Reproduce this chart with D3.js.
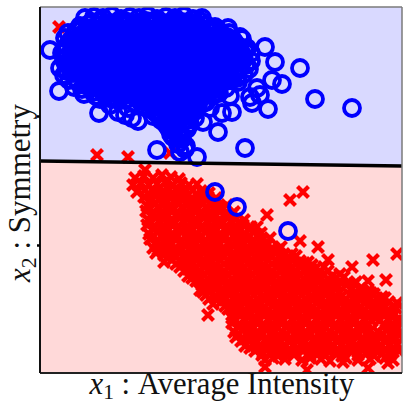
<!DOCTYPE html>
<html>
<head>
<meta charset="utf-8">
<script src="https://cdn.jsdelivr.net/npm/d3@7"></script>
<style>
  body { margin: 0; background: #fff; }
</style>
</head>
<body>
<svg id="chart" width="404" height="403"></svg>
<script>

// values (x: intensity units, y: symmetry units)
var redCore = [
  [104,197],[113,195],[122,198],[131,196],[139,194],
  [93,188],[101,190],[109,188],[117,189],[125,191],[133,188],[141,190],[149,188],[157,189],
  [97,181],[105,183],[113,182],[121,180],[129,183],[137,182],[145,181],[153,183],[161,182],[169,180],
  [104,176],[112,174],[120,175],[128,177],[136,174],[144,176],[152,175],[160,173],[168,176],[176,175],
  [107,167],[115,169],[123,168],[131,166],[139,169],[147,168],[155,167],[163,169],[171,168],[179,166],[187,168],
  [106,162],[114,160],[122,161],[130,163],[138,160],[146,161],[154,162],[162,160],[170,161],[178,163],[186,160],[194,161],
  [108,153],[116,155],[124,154],[132,152],[140,155],[148,154],[156,153],[164,155],[172,154],[180,152],[188,155],[196,154],[204,153],
  [107,148],[115,146],[123,147],[131,149],[139,146],[147,147],[155,148],[163,146],[171,147],[179,149],[187,146],[195,147],[203,148],[211,146],
  [109,139],[117,141],[125,140],[133,138],[141,141],[149,140],[157,139],[165,141],[173,140],[181,138],[189,141],[197,140],[205,139],[213,141],[221,140],
  [110,134],[118,132],[126,133],[134,135],[142,132],[150,133],[158,134],[166,132],[174,133],[182,135],[190,132],[198,133],[206,134],[214,132],[222,133],[230,135],
  [113,125],[121,127],[129,126],[137,124],[145,127],[153,126],[161,125],[169,127],[177,126],[185,124],[193,127],[201,126],[209,125],[217,127],[225,126],[233,124],[241,126],
  [116,120],[124,118],[132,119],[140,121],[148,118],[156,119],[164,120],[172,118],[180,119],[188,121],[196,118],[204,119],[212,120],[220,118],[228,119],[236,121],[244,118],[252,119],
  [124,111],[132,113],[140,112],[148,110],[156,113],[164,112],[172,111],[180,113],[188,112],[196,110],[204,113],[212,112],[220,111],[228,113],[236,112],[244,110],[252,113],[260,112],[268,111],
  [140,106],[148,104],[156,105],[164,107],[172,104],[180,105],[188,106],[196,104],[204,105],[212,107],[220,104],[228,105],[236,106],[244,104],[252,105],[260,107],[268,104],[276,105],[284,106],
  [148,97],[156,99],[164,98],[172,96],[180,99],[188,98],[196,97],[204,99],[212,98],[220,96],[228,99],[236,98],[244,97],[252,99],[260,98],[268,96],[276,99],[284,98],[292,97],[300,99],
  [156,92],[164,90],[172,91],[180,93],[188,90],[196,91],[204,92],[212,90],[220,91],[228,93],[236,90],[244,91],[252,92],[260,90],[268,91],[276,93],[284,90],[292,91],[300,92],[308,90],[316,91],
  [160,83],[168,85],[176,84],[184,82],[192,85],[200,84],[208,83],[216,85],[224,84],[232,82],[240,85],[248,84],[256,83],[264,85],[272,84],[280,82],[288,85],[296,84],[312,85],[320,84],[328,82],
  [166,78],[174,76],[182,77],[190,79],[198,76],[206,77],[214,78],[222,76],[230,77],[238,79],[246,76],[254,77],[262,78],[270,76],[278,77],[286,79],[294,76],[302,77],[310,78],[318,76],[326,77],[334,79],[342,76],
  [173,69],[181,71],[189,70],[197,68],[205,71],[213,70],[221,69],[229,71],[237,70],[245,68],[253,71],[261,70],[269,69],[277,71],[285,70],[293,68],[301,71],[309,70],[317,69],[325,71],[333,70],[341,68],[349,71],[357,70],
  [188,64],[196,62],[204,63],[212,65],[220,62],[228,63],[236,64],[244,62],[252,63],[260,65],[268,62],[276,63],[284,64],[292,62],[300,63],[308,65],[316,62],[324,63],[332,64],[340,62],[348,63],[356,65],
  [192,55],[200,57],[208,56],[216,54],[224,57],[232,56],[240,55],[248,57],[256,56],[264,54],[272,57],[280,56],[288,55],[296,57],[304,56],[312,54],[320,57],[328,56],[336,55],[344,57],[352,56],[360,54],
  [192,50],[200,48],[208,49],[216,51],[224,48],[232,49],[240,50],[248,48],[256,49],[264,51],[272,48],[280,49],[288,50],[296,48],[304,49],[312,51],[320,48],[328,49],[344,48],[352,49],[360,51],
  [194,41],[202,43],[210,42],[218,40],[226,43],[234,42],[242,41],[250,43],[258,42],[266,40],[274,43],[282,42],[290,41],[298,43],[306,42],[314,40],[322,43],[330,42],[338,41],[346,43],[354,42],[360,40],
  [196,36],[204,34],[212,35],[220,37],[228,34],[236,35],[244,36],[252,34],[260,35],[268,37],[276,34],[284,35],[292,36],[300,34],[308,35],[316,37],[324,34],[332,35],[340,36],[348,34],[356,35],
  [205,27],[213,29],[221,28],[229,26],[237,29],[245,28],[253,27],[261,29],[269,28],[277,26],[285,29],[293,28],[301,27],[309,29],[317,28],[325,26],[333,29],[341,28],[349,27],[357,29],
  [215,22],[223,20],[231,21],[239,23],[247,20],[255,21],[263,22],[271,20],[279,21],[287,23],[295,20],[303,21],[311,22],[319,20],[327,21],[335,23],[343,20],[351,21],[359,22],
  [225,13],[233,15],[245,14],[262,13],[270,15],[281,14],[290,12],[306,15],[318,13],[330,14],[345,15],[353,13]
];

// denser inner part of the red band
var redDense = [
  [108,179],[116,180],[124,178],[132,179],[140,180],[148,178],[156,179],[164,180],
  [111,172],[119,173],[127,171],[135,172],[143,173],[151,171],[159,172],[167,173],[175,171],
  [110,165],[118,166],[126,164],[134,165],[142,166],[150,164],[158,165],[166,166],[174,164],[182,165],
  [112,158],[120,159],[128,157],[136,158],[144,159],[152,157],[160,158],[168,159],[176,157],[184,158],[192,159],
  [111,151],[119,152],[127,150],[135,151],[143,152],[151,150],[159,151],[167,152],[175,150],[183,151],[191,152],[199,150],
  [113,144],[121,145],[129,143],[137,144],[145,145],[153,143],[161,144],[169,145],[177,143],[185,144],[193,145],[201,143],[209,144],
  [114,137],[122,138],[130,136],[138,137],[146,138],[154,136],[162,137],[170,138],[178,136],[186,137],[194,138],[202,136],[210,137],[218,138],
  [116,130],[124,131],[132,129],[140,130],[148,131],[156,129],[164,130],[172,131],[180,129],[188,130],[196,131],[204,129],[212,130],[220,131],[228,129],
  [118,123],[126,124],[134,122],[142,123],[150,124],[158,122],[166,123],[174,124],[182,122],[190,123],[198,124],[206,122],[214,123],[222,124],[230,122],[238,123],
  [128,116],[136,117],[144,115],[152,116],[160,117],[168,115],[176,116],[184,117],[192,115],[200,116],[208,117],[216,115],[224,116],[232,117],[240,115],[248,116],[256,117],
  [136,109],[144,110],[152,108],[160,109],[168,110],[176,108],[184,109],[192,110],[200,108],[208,109],[216,110],[224,108],[232,109],[240,110],[248,108],[256,109],[264,110],[272,108],
  [144,102],[152,103],[160,101],[168,102],[176,103],[184,101],[192,102],[200,103],[208,101],[216,102],[224,103],[232,101],[240,102],[248,103],[256,101],[264,102],[272,103],[280,101],[288,102],
  [152,95],[160,96],[168,94],[176,95],[184,96],[192,94],[200,95],[208,96],[216,94],[224,95],[232,96],[240,94],[248,95],[256,96],[264,94],[272,95],[280,96],[288,94],[296,95],[304,96],
  [162,88],[170,89],[178,87],[186,88],[194,89],[202,87],[210,88],[218,89],[226,87],[234,88],[242,89],[250,87],[258,88],[266,89],[274,87],[282,88],[290,89],[298,87],[306,88],[314,89],
  [163,81],[171,82],[179,80],[187,81],[195,82],[203,80],[211,81],[219,82],[227,80],[235,81],[243,82],[251,80],[259,81],[267,82],[275,80],[283,81],[291,82],[299,80],[315,81],[323,82],[331,80],
  [169,74],[177,75],[185,73],[193,74],[201,75],[209,73],[217,74],[225,75],[233,73],[241,74],[249,75],[257,73],[265,74],[273,75],[281,73],[289,74],[297,75],[305,73],[313,74],[321,75],[329,73],[337,74],[345,75],
  [185,67],[193,68],[201,66],[209,67],[217,68],[225,66],[233,67],[241,68],[249,66],[257,67],[265,68],[273,66],[281,67],[289,68],[297,66],[305,67],[313,68],[321,66],[329,67],[337,68],[345,66],[353,67],
  [194,60],[202,61],[210,59],[218,60],[226,61],[234,59],[242,60],[250,61],[258,59],[266,60],[274,61],[282,59],[290,60],[298,61],[306,59],[314,60],[322,61],[330,59],[338,60],[346,61],[354,59],
  [196,53],[204,54],[212,52],[220,53],[228,54],[236,52],[244,53],[252,54],[260,52],[268,53],[276,54],[284,52],[292,53],[300,54],[308,52],[316,53],[324,54],[332,52],[340,53],[348,54],[356,52],
  [198,46],[206,47],[214,45],[222,46],[230,47],[238,45],[246,46],[254,47],[262,45],[270,46],[278,47],[286,45],[294,46],[302,47],[310,45],[318,46],[326,47],[350,46],[358,45],
  [199,39],[207,40],[215,38],[223,39],[231,40],[239,38],[247,39],[255,40],[263,38],[271,39],[279,40],[287,38],[295,39],[303,40],[311,38],[319,39],[327,40],[335,38],[343,39],[351,40],[359,38],
  [201,32],[209,33],[217,31],[225,32],[233,33],[241,31],[249,32],[257,33],[265,31],[273,32],[281,33],[289,31],[297,32],[305,33],[313,31],[321,32],[329,33],[337,31],[345,32],[353,33],
  [210,25],[218,26],[226,24],[234,25],[242,26],[250,24],[258,25],[266,26],[274,24],[282,25],[290,26],[298,24],[306,25],[314,26],[322,24],[330,25],[338,26],[346,24],[354,25],
  [222,18],[238,17],[254,18],[270,17],[286,18],[302,17],[318,18],[334,17],[350,18]
];

var redStray = [
  [19,346],[57,218],[88,216],[130,220],[105,203],[95,195],[250,173],[263,181],
  [227,158],[217,146],[260,132],[278,126],[288,113],[333,113],[357,119],[312,106],
  [328,92],[346,93],[168,58],[225,6],[267,3],[303,11],[328,5],[348,10]
];

var blueCore = [
  [45,355],[54,356],[63,355],[72,357],[81,354],[90,356],[99,355],[108,357],[117,354],[126,356],[135,355],[144,357],[153,354],[162,355],
  [40,347],[49,349],[58,348],[67,346],[76,349],[85,348],[94,347],[103,349],[112,348],[121,346],[130,349],[139,348],[148,347],[157,349],[166,348],[175,346],
  [28,340],[36,342],[45,341],[54,339],[63,342],[72,341],[81,340],[90,342],[99,341],[108,339],[117,342],[126,341],[135,340],[144,342],[153,341],[162,339],[171,342],[180,341],[189,340],
  [25,335],[31,333],[40,334],[49,336],[58,333],[67,334],[76,335],[85,333],[94,334],[103,336],[112,333],[121,334],[130,335],[139,333],[148,334],[157,336],[166,333],[175,334],[184,335],[193,333],[202,334],
  [27,327],[36,328],[45,326],[54,328],[63,327],[72,326],[81,328],[90,327],[99,325],[108,328],[117,327],[126,326],[135,328],[144,327],[153,325],[162,328],[171,327],[180,326],[189,328],[198,327],[207,325],
  [22,320],[31,321],[40,319],[49,320],[58,322],[67,319],[76,320],[85,321],[94,319],[103,320],[112,322],[121,319],[130,320],[139,321],[148,319],[157,320],[166,322],[175,319],[184,320],[193,321],[202,319],[211,320],
  [24,313],[33,311],[42,314],[51,313],[60,312],[69,314],[78,313],[87,311],[96,314],[105,313],[114,312],[123,314],[132,313],[141,311],[150,314],[159,313],[168,312],[177,314],[186,313],[195,311],[204,314],[211,312],
  [20,305],[29,307],[38,306],[47,304],[56,307],[65,306],[74,305],[83,307],[92,306],[101,304],[110,307],[119,306],[128,305],[137,307],[146,306],[155,304],[164,307],[173,306],[182,305],[191,307],[200,306],[209,304],
  [24,298],[33,300],[42,299],[51,297],[60,300],[69,299],[78,298],[87,300],[96,299],[105,297],[114,300],[123,299],[132,298],[141,300],[150,299],[159,297],[168,300],[177,299],[186,298],[195,300],[204,299],
  [29,293],[38,291],[47,292],[56,294],[65,291],[74,292],[83,293],[92,291],[101,292],[110,294],[119,291],[128,292],[137,293],[146,291],[155,292],[164,294],[173,291],[182,292],[191,293],[198,291],
  [34,286],[42,284],[51,285],[60,287],[69,284],[78,285],[87,286],[96,284],[105,285],[114,287],[123,284],[132,285],[141,286],[150,284],[159,285],[168,287],[177,284],[186,285],
  [44,279],[56,277],[65,278],[74,280],[83,277],[92,278],[101,279],[110,277],[119,278],[128,280],[137,277],[146,278],[155,279],[164,277],[173,278],
  [100,272],[109,270],[118,271],[127,273],[136,270],[145,271],[154,272],[163,270],[166,271],
  [110,264],[119,262],[128,265],[137,263],[146,264],[155,262],
  [113,257],[121,255],[129,258],[138,256],[147,257],[155,255],
  [125,250],[134,248],[143,251],[150,249],
  [130,243],[138,241],[147,244],
  [133,236],[142,234],
  [138,229],[146,227]
];

// denser inner part of the blue cloud
var blueDense = [
  [52,351],[61,352],[70,350],[79,352],[88,351],[97,350],[106,352],[115,351],[124,350],[133,352],[142,351],[151,350],[160,352],
  [42,344],[51,345],[60,343],[69,344],[78,345],[87,343],[96,344],[105,345],[114,343],[123,344],[132,345],[141,343],[150,344],[159,345],[168,343],[177,344],
  [34,337],[43,338],[52,336],[61,337],[70,338],[79,336],[88,337],[97,338],[106,336],[115,337],[124,338],[133,336],[142,337],[151,338],[160,336],[169,337],[178,338],[187,336],
  [33,330],[42,331],[51,329],[60,330],[69,331],[78,329],[87,330],[96,331],[105,329],[114,330],[123,331],[132,329],[141,330],[150,331],[159,329],[168,330],[177,331],[186,329],[195,330],
  [25,323],[34,324],[43,322],[52,323],[61,324],[70,322],[79,323],[88,324],[97,322],[106,323],[115,324],[124,322],[133,323],[142,324],[151,322],[160,323],[169,324],[178,322],[187,323],[196,324],[205,322],
  [27,316],[36,317],[45,315],[54,316],[63,317],[72,315],[81,316],[90,317],[99,315],[108,316],[117,317],[126,315],[135,316],[144,317],[153,315],[162,316],[171,317],[180,315],[189,316],[198,317],
  [26,309],[35,310],[44,308],[53,309],[62,310],[71,308],[80,309],[89,310],[98,308],[107,309],[116,310],[125,308],[134,309],[143,310],[152,308],[161,309],[170,310],[179,308],[188,309],[197,310],[206,308],
  [27,302],[36,303],[45,301],[54,302],[63,303],[72,301],[81,302],[90,303],[99,301],[108,302],[117,303],[126,301],[135,302],[144,303],[153,301],[162,302],[171,303],[180,301],[189,302],[198,303],
  [35,295],[44,296],[53,294],[62,295],[71,296],[80,294],[89,295],[98,296],[107,294],[116,295],[125,296],[134,294],[143,295],[152,296],[161,294],[170,295],[179,296],[188,294],[197,295],
  [45,288],[54,289],[63,287],[72,288],[81,289],[90,287],[99,288],[108,289],[117,287],[126,288],[135,289],[144,287],[153,288],[162,289],[171,287],[180,288],
  [53,281],[62,282],[71,280],[80,281],[89,282],[98,280],[107,281],[116,282],[125,280],[134,281],[143,282],[152,280],[161,281],[170,282],[179,280],
  [60,274],[69,275],[78,273],[87,274],[96,275],[105,273],[114,274],[123,275],[132,273],[141,274],[150,275],[159,273],
  [104,267],[113,268],[122,266],[131,267],[140,268],[149,266],[158,267],
  [116,260],[125,261],[134,259],[143,260],[152,261],
  [121,253],[130,254],[139,252],[148,253],
  [128,246],[137,247],[146,245],
  [131,239],[140,240]
];

var blueStray = [
  [10,323],[19,282],[188,345],[200,336],[225,326],[235,311],[260,305],[232,293],[242,289],
  [217,285],[190,277],[210,276],[220,278],[275,274],[212,270],[228,264],[312,265],
  [59,260],[78,261],[85,258],[92,255],[98,252],[88,265],[70,268],
  [170,265],[182,260],[192,261],[163,251],[178,241],
  [117,223],[140,221],[145,224],[157,216],[205,225],
  [175,181],[197,166],[248,142]
];

var boundaryX = [0, 362];
var boundaryY = [212, 207];
var yTicks = [128, 257];

var xLabelParts = ["x", "1", " : Average Intensity"];
var yLabelParts = ["x", "2", " : Symmetry"];

var svg = d3.select("#chart");

var x = d3.scaleLinear().domain([0, 362]).range([40, 402]);
var y = d3.scaleLinear().domain([0, 366]).range([373, 7]);

svg.append("clipPath").attr("id", "plotClip")
  .append("rect")
    .attr("x", x(0)).attr("y", y(366))
    .attr("width", x(362) - x(0)).attr("height", y(0) - y(366));

var plot = svg.append("g").attr("clip-path", "url(#plotClip)");

var poly = d3.line().x(function (d) { return x(d[0]); }).y(function (d) { return y(d[1]); });

// decision regions
plot.append("path")
  .attr("d", poly([[0, boundaryY[0]], [362, boundaryY[1]], [362, 366], [0, 366]]) + "Z")
  .attr("fill", "#d9d9ff");
plot.append("path")
  .attr("d", poly([[0, 0], [362, 0], [362, boundaryY[1]], [0, boundaryY[0]]]) + "Z")
  .attr("fill", "#ffd9d9");

// red crosses
plot.selectAll("path.cross")
  .data(redCore.concat(redDense, redStray))
  .join("path")
    .attr("class", "cross")
    .attr("transform", function (d) { return "translate(" + x(d[0]) + "," + y(d[1]) + ")"; })
    .attr("d", "M-5.5,-5.5L5.5,5.5M-5.5,5.5L5.5,-5.5")
    .attr("stroke", "#ff0000")
    .attr("stroke-width", 4.2)
    .attr("fill", "none");

// blue circles
plot.selectAll("circle")
  .data(blueCore.concat(blueDense, blueStray))
  .join("circle")
    .attr("cx", function (d) { return x(d[0]); })
    .attr("cy", function (d) { return y(d[1]); })
    .attr("r", 8)
    .attr("fill", "none")
    .attr("stroke", "#0000ff")
    .attr("stroke-width", 3.8);

// separating line
plot.append("path")
  .attr("d", poly(boundaryX.map(function (v, i) { return [v, boundaryY[i]]; })))
  .attr("stroke", "#000")
  .attr("stroke-width", 3.5)
  .attr("fill", "none");

// frame
svg.append("line").attr("x1", x(0)).attr("x2", x(362)).attr("y1", y(366)).attr("y2", y(366))
  .attr("stroke", "#7a7a7a").attr("stroke-width", 1.5);
svg.append("line").attr("x1", x(362)).attr("x2", x(362)).attr("y1", y(366)).attr("y2", y(0))
  .attr("stroke", "#7a7a7a").attr("stroke-width", 1.5);
svg.append("line").attr("x1", x(0)).attr("x2", x(362)).attr("y1", y(0)).attr("y2", y(0))
  .attr("stroke", "#222").attr("stroke-width", 2);
svg.append("line").attr("x1", x(0)).attr("x2", x(0)).attr("y1", y(366)).attr("y2", y(0))
  .attr("stroke", "#111").attr("stroke-width", 2);

var yAxis = svg.append("g")
  .attr("transform", "translate(" + x(0) + ",0)")
  .call(d3.axisLeft(y).tickValues(yTicks).tickSize(3).tickFormat(""));
yAxis.select(".domain").remove();
yAxis.selectAll(".tick line").attr("stroke", "#000").attr("stroke-width", 2.5);

function addLabel(parts, target) {
  var t = svg.append("text")
    .attr("text-anchor", "middle")
    .attr("font-family", "'Liberation Serif', 'DejaVu Serif', serif")
    .attr("font-size", 24)
    .attr("fill", "#111");
  t.append("tspan").attr("font-style", "italic").text(parts[0]);
  t.append("tspan").attr("font-size", "0.7em").attr("baseline-shift", "-25%").text(parts[1]);
  t.append("tspan").text(parts[2].replace(/ /g, "\u00a0"));
  var w = t.node().getComputedTextLength();
  t.attr("font-size", 24 * target / w);
  return t;
}

addLabel(xLabelParts, 265).attr("x", 222).attr("y", 394);
addLabel(yLabelParts, 178).attr("transform", "translate(30,193) rotate(-90)");

</script>
</body>
</html>
